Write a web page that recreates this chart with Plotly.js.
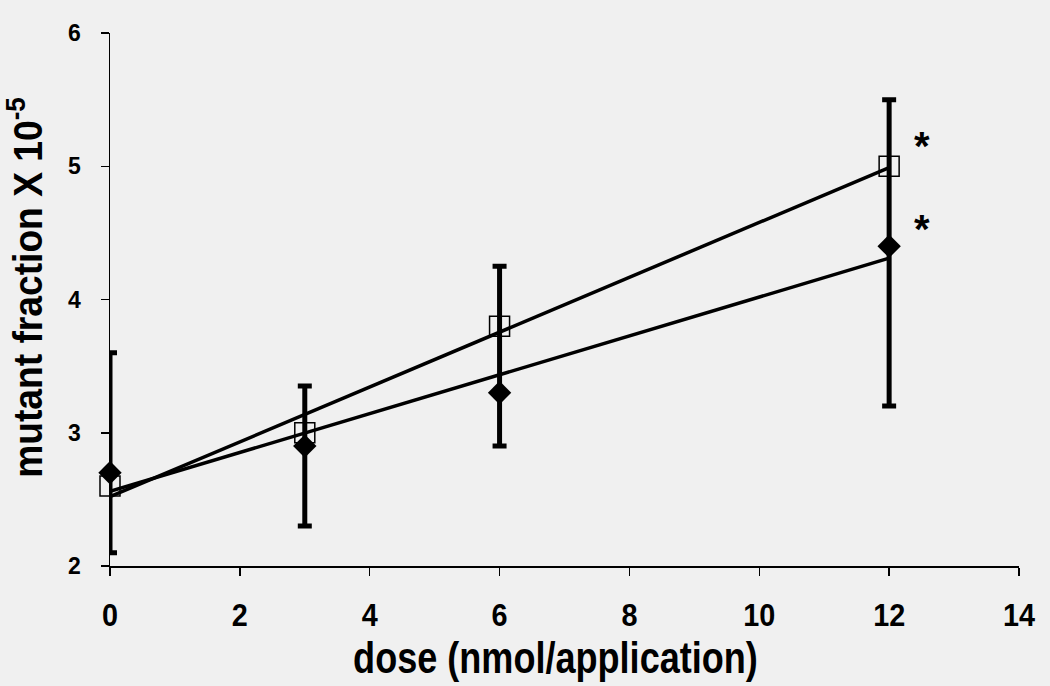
<!DOCTYPE html>
<html>
<head>
<meta charset="utf-8">
<script src="https://cdn.plot.ly/plotly-3.0.1.min.js"></script>
<style>html,body{margin:0;padding:0;background:#f0f0f0;}#chart{width:1050px;height:686px;}</style>
</head>
<body>
<div id="chart"></div>
<script>
// Data
var doses = [0, 3, 6, 12];
var openSquare = [2.6, 3.0, 3.8, 5.0];
var filledDiamond = [2.7, 2.9, 3.3, 4.4];
// combined error bar ends at each dose (upper belongs to squares, lower to diamonds)
var errUpper = [3.6, 3.35, 4.25, 5.5];
var errLower = [2.1, 2.3, 2.9, 3.2];
// fitted trend lines (endpoints)
var trendX = [0, 12];
var trendSquare = [2.52, 4.99];
var trendDiamond = [2.56, 4.31];
// significance marks
var starX = [12.5, 12.5];
var starY = [5.15, 4.53];
var xTicks = [0, 2, 4, 6, 8, 10, 12, 14];
var yTicks = [2, 3, 4, 5, 6];

var font = "'Liberation Sans', Arial, sans-serif";

var traces = [
  {x: trendX, y: trendSquare, mode: 'lines', line: {color: '#000', width: 3.5}, hoverinfo: 'skip', showlegend: false, cliponaxis: false},
  {x: trendX, y: trendDiamond, mode: 'lines', line: {color: '#000', width: 3.5}, hoverinfo: 'skip', showlegend: false, cliponaxis: false},
  {x: doses, y: errUpper, mode: 'markers', marker: {size: 1, opacity: 0}, showlegend: false, cliponaxis: false,
   error_y: {type: 'data', symmetric: false, array: doses.map(function(){return 0;}),
             arrayminus: errUpper.map(function(v, i){return v - errLower[i];}),
             color: '#000', thickness: 5, width: 7}},
  {x: doses, y: filledDiamond, mode: 'markers', cliponaxis: false, marker: {symbol: 'diamond', size: 18, color: '#000'}, showlegend: false},
  {x: doses, y: openSquare, mode: 'markers', cliponaxis: false, marker: {symbol: 'square-open', size: 20, color: '#000', line: {width: 1.5, color: '#000'}}, showlegend: false}
];

var annotations = starX.map(function(x, i){
  return {x: x, y: starY[i], text: '*', showarrow: false, xanchor: 'center', yanchor: 'middle',
          font: {family: font, size: 40, color: '#000', weight: 'bold'}};
});

var layout = {
  width: 1050, height: 686,
  paper_bgcolor: '#f0f0f0', plot_bgcolor: '#f0f0f0',
  margin: {l: 110, r: 31, t: 33, b: 120},
  showlegend: false,
  font: {family: font, color: '#000'},
  xaxis: {range: [0, 14], tickvals: xTicks, showgrid: false, zeroline: false,
          showline: true, linecolor: '#000', linewidth: 1.5, ticks: 'outside', ticklen: 8, tickwidth: 1.5, tickcolor: '#000',
          tickfont: {family: font, size: 32, weight: 'bold'}, ticklabelstandoff: 12,
          title: {text: 'dose (nmol/application)', font: {family: font, size: 44, weight: 'bold'}, standoff: 0}},
  yaxis: {range: [2, 6], tickvals: yTicks, showgrid: false, zeroline: false,
          showline: true, linecolor: '#000', linewidth: 1.5, ticks: 'outside', ticklen: 8, tickwidth: 1.5, tickcolor: '#000',
          tickfont: {family: font, size: 23, weight: 'bold'}, ticklabelstandoff: 15,
          title: {text: 'mutant fraction X 10<sup>-5</sup>', font: {family: font, size: 40, weight: 'bold'}, standoff: 16}},
  annotations: annotations
};

// narrow the bold glyphs horizontally (the reference uses a condensed face)
function condense(el, k, dx) {
  var bb = el.getBBox();
  var cx = bb.x + bb.width / 2;
  var t = el.getAttribute('transform') || '';
  el.setAttribute('transform', t + ' translate(' + (cx + (dx || 0)) + ',0) scale(' + k + ',1) translate(' + (-cx) + ',0)');
}

Plotly.newPlot('chart', traces, layout, {staticPlot: true, displayModeBar: false}).then(function(gd){
  var xt = gd.querySelector('.xtitle');
  if (xt) condense(xt, 0.82, -9);
  var yt = gd.querySelector('.ytitle');
  if (yt) condense(yt, 0.93, 12);
  gd.querySelectorAll('.xtick text').forEach(function(t){ condense(t, 0.9); });
});
</script>
</body>
</html>
